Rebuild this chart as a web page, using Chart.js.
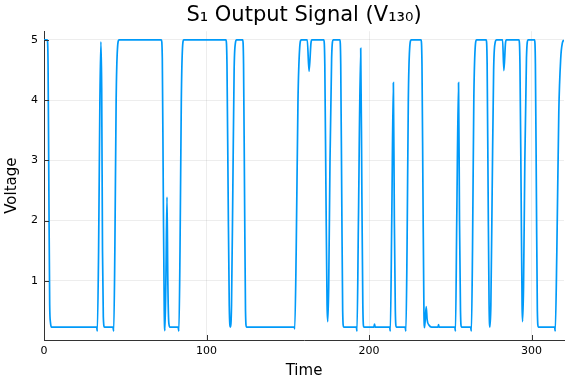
<!DOCTYPE html>
<html>
<head>
<meta charset="utf-8">
<script src="https://cdn.jsdelivr.net/npm/chart.js@4"></script>
<style>
  html, body { margin: 0; padding: 0; background: #fff; }
  #wrap { width: 576px; height: 384px; }
</style>
</head>
<body>
<div id="wrap"><canvas id="signalChart" width="576" height="384"></canvas></div>
<script>
const times = [
    0, 2.0, 2.5, 3.0, 3.5, 4.0, 4.6,
    32.4, 32.8, 33.6, 34.4, 35.0, 35.5, 36.0, 36.5, 37.2,
    42.4, 42.9, 43.6, 44.4, 45.2, 46.2,
    72.2, 72.8, 73.4, 74.0, 74.4, 75.0, 75.7, 76.2, 76.8, 77.5,
    82.5, 83.0, 83.7, 84.5, 85.2, 86.0,
    112.0, 112.6, 113.3, 114.0, 114.7, 115.4, 116.2, 117.0, 117.8, 118.5,
    122.3, 122.8, 123.4, 124.0, 124.6,
    154.0, 154.3, 155.2, 156.3, 157.3, 158.3,
    162.0, 163.1, 164.3, 164.8,
    172.2, 172.8, 173.5, 174.2, 174.6, 175.2, 176.0, 177.0, 178.0,
    182.1, 182.6, 183.2, 183.8, 184.4,
    192.2, 192.6, 193.5, 194.9, 195.6, 196.2, 196.8,
    203.0, 203.4, 203.8,
    212.7, 213.1, 214.0, 215.0, 215.6, 216.2, 216.8,
    222.2, 222.7, 223.4, 224.2, 225.0, 226.0,
    232.0, 232.6, 233.2, 233.8, 234.2, 235.2, 235.8, 237.0, 238.5,
    242.5, 242.8, 243.1,
    252.8, 253.2, 254.0, 255.1, 255.7, 256.3, 256.9,
    262.5, 263.0, 263.7, 264.5, 265.3, 266.2,
    272.1, 272.7, 273.3, 273.9, 274.4, 275.0, 275.8, 276.7, 277.6, 278.5,
    282.2, 283.0, 284.0, 284.6,
    292.3, 292.9, 293.6, 294.2, 294.5, 295.1, 295.9, 296.9, 297.9,
    301.9, 302.4, 303.0, 303.6, 304.2,
    314.2, 314.6, 315.6, 316.8, 318.0, 319.0, 320.0
];
const volts = [
    5.0, 5.0, 4.6, 2.5, 0.6, 0.3, 0.23,
    0.23, 0.16, 1.5, 4.0, 4.97, 4.2, 1.5, 0.4, 0.23,
    0.23, 0.16, 1.5, 4.0, 4.85, 5.0,
    5.0, 4.7, 2.5, 0.5, 0.17, 1.0, 2.39, 1.0, 0.3, 0.23,
    0.23, 0.16, 1.5, 4.0, 4.85, 5.0,
    5.0, 4.6, 2.5, 0.6, 0.23, 0.6, 2.5, 4.5, 4.95, 5.0,
    5.0, 4.6, 2.5, 0.5, 0.23,
    0.23, 0.2, 1.5, 4.0, 4.85, 5.0,
    5.0, 4.48, 4.95, 5.0,
    5.0, 4.6, 2.5, 0.6, 0.32, 0.9, 3.0, 4.7, 5.0,
    5.0, 4.6, 2.5, 0.5, 0.23,
    0.23, 0.16, 2.0, 4.86, 2.5, 0.6, 0.23,
    0.23, 0.28, 0.23,
    0.23, 0.16, 2.0, 4.29, 2.0, 0.5, 0.23,
    0.23, 0.16, 1.5, 4.0, 4.85, 5.0,
    5.0, 4.6, 2.5, 0.5, 0.22, 0.57, 0.35, 0.26, 0.23,
    0.23, 0.27, 0.23,
    0.23, 0.16, 2.0, 4.29, 2.0, 0.5, 0.23,
    0.23, 0.16, 1.5, 4.0, 4.85, 5.0,
    5.0, 4.6, 2.5, 0.6, 0.23, 0.6, 2.5, 4.5, 4.95, 5.0,
    5.0, 4.49, 4.95, 5.0,
    5.0, 4.6, 2.5, 0.6, 0.32, 0.9, 3.0, 4.7, 5.0,
    5.0, 4.6, 2.5, 0.5, 0.23,
    0.23, 0.16, 1.5, 3.8, 4.7, 4.95, 5.0
];
const xTicks = [0, 100, 200, 300];
const yTicks = [1, 2, 3, 4, 5];

const lineBlue = '#009AF9';
const axisColor = '#333333';
const gridColor = 'rgba(0,0,0,0.07)';
const fontFamily = '"DejaVu Sans", sans-serif';

// short tick marks pointing into the plot, like the original
const innerTicks = {
    id: 'innerTicks',
    afterDraw(chart) {
        const { ctx, chartArea, scales } = chart;
        ctx.save();
        ctx.strokeStyle = axisColor;
        ctx.lineWidth = 1;
        ctx.beginPath();
        xTicks.forEach(v => {
            const px = Math.round(scales.x.getPixelForValue(v)) + 0.5;
            ctx.moveTo(px, chartArea.bottom);
            ctx.lineTo(px, chartArea.bottom - 5);
        });
        yTicks.forEach(v => {
            const py = Math.round(scales.y.getPixelForValue(v)) + 0.5;
            ctx.moveTo(chartArea.left, py);
            ctx.lineTo(chartArea.left + 5, py);
        });
        ctx.stroke();
        ctx.restore();
    }
};

const ctx = document.getElementById('signalChart').getContext('2d');
new Chart(ctx, {
    type: 'line',
    data: {
        datasets: [{
            data: times.map((t, i) => ({ x: t, y: volts[i] })),
            borderColor: lineBlue,
            borderWidth: 1.7,
            pointRadius: 0,
            fill: false,
            cubicInterpolationMode: 'monotone'
        }]
    },
    options: {
        responsive: false,
        animation: false,
        devicePixelRatio: 1,
        layout: { padding: { left: 0, right: 12, top: 0, bottom: 0 } },
        plugins: {
            legend: { display: false },
            tooltip: { enabled: false },
            title: {
                display: true,
                fullSize: false,
                text: 'S\u2081 Output Signal (V\u2081\u2083\u2080)',
                color: '#000',
                font: { family: fontFamily, size: 21, weight: 'normal' },
                padding: { top: 3, bottom: 3 }
            }
        },
        scales: {
            x: {
                type: 'linear',
                min: 0,
                max: 320,
                afterBuildTicks: s => { s.ticks = xTicks.map(v => ({ value: v })); },
                afterFit: s => { s.height = 44; },
                grid: { color: gridColor, lineWidth: 1, drawTicks: false },
                border: { display: true, color: axisColor, width: 1 },
                ticks: { color: '#000', padding: 5, maxRotation: 0, font: { family: fontFamily, size: 11 } },
                title: {
                    display: true,
                    text: 'Time',
                    color: '#000',
                    font: { family: fontFamily, size: 15 },
                    padding: { top: 0, bottom: 4 }
                }
            },
            y: {
                type: 'linear',
                min: 0.015,
                max: 5.145,
                afterBuildTicks: s => { s.ticks = yTicks.map(v => ({ value: v })); },
                afterFit: s => { s.width = 44; },
                grid: { color: gridColor, lineWidth: 1, drawTicks: false },
                border: { display: true, color: axisColor, width: 1 },
                ticks: { color: '#000', padding: 6, font: { family: fontFamily, size: 11 } },
                title: {
                    display: true,
                    text: 'Voltage',
                    color: '#000',
                    font: { family: fontFamily, size: 15 },
                    padding: { top: 3, bottom: 0 }
                }
            }
        }
    },
    plugins: [innerTicks]
});
</script>
</body>
</html>
